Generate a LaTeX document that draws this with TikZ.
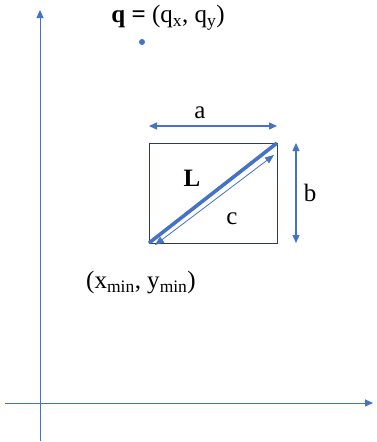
\documentclass[tikz,border=0pt]{standalone}
\usepackage{fontspec}
\setmainfont{Liberation Serif}
\usetikzlibrary{arrows.meta}
\definecolor{ax}{RGB}{68,114,196}
\definecolor{bx}{RGB}{50,60,80}
\begin{document}
\begin{tikzpicture}[x=1pt,y=-1pt,
  lbl/.style={font=\fontsize{25}{29}\selectfont, inner sep=0pt},
  axis/.style={draw=ax, line width=1pt, -{Triangle[length=8pt,width=7pt]}},
  dim/.style={draw=ax, line width=1.3pt, {Triangle[length=8pt,width=7pt]}-{Triangle[length=8pt,width=7pt]}}]
\useasboundingbox (0,0) rectangle (376,442);
% axes
\coordinate (xs) at (5,403);
\coordinate (xe) at (373,403);
\coordinate (ys) at (40,441);
\coordinate (ye) at (40,10);
\draw[axis] (xs) -- (xe);
\draw[axis] (ys) -- (ye);
% rectangle
\coordinate (bl) at (149,243);
\coordinate (tr) at (277,143);
\draw[bx, line width=1pt] (bl) rectangle (tr);
% diagonal L
\draw[ax, line width=3.6pt] (bl) -- (tr);
% c arrow
\coordinate (cs) at (155,245);
\coordinate (ce) at (274,155);
\draw[ax, line width=0.8pt, {Triangle[length=9pt,width=7pt]}-{Triangle[length=9pt,width=7pt]}] (cs) -- (ce);
% a arrow
\coordinate (as) at (149,126);
\coordinate (ae) at (277,126);
\draw[dim] (as) -- (ae);
% b arrow
\coordinate (bs) at (296,143);
\coordinate (be) at (296,243);
\draw[dim] (bs) -- (be);
% labels
\node[lbl] (la) at (200,113) {a};
\node[lbl] (lb) at (310,193) {b};
\node[lbl] (lc) at (232,219) {c};
\node[lbl] (lL) at (192,178) {\textbf{L}};
\node[lbl] (lq) at (168,18) {\textbf{q =} (q\textsubscript{x}, q\textsubscript{y})};
\node[circle, fill=ax, inner sep=0pt, minimum size=6pt] (q) at (142,42) {};
\node[lbl] (lmin) at (141,283) {(x\textsubscript{min}, y\textsubscript{min})};
\end{tikzpicture}
\end{document}
